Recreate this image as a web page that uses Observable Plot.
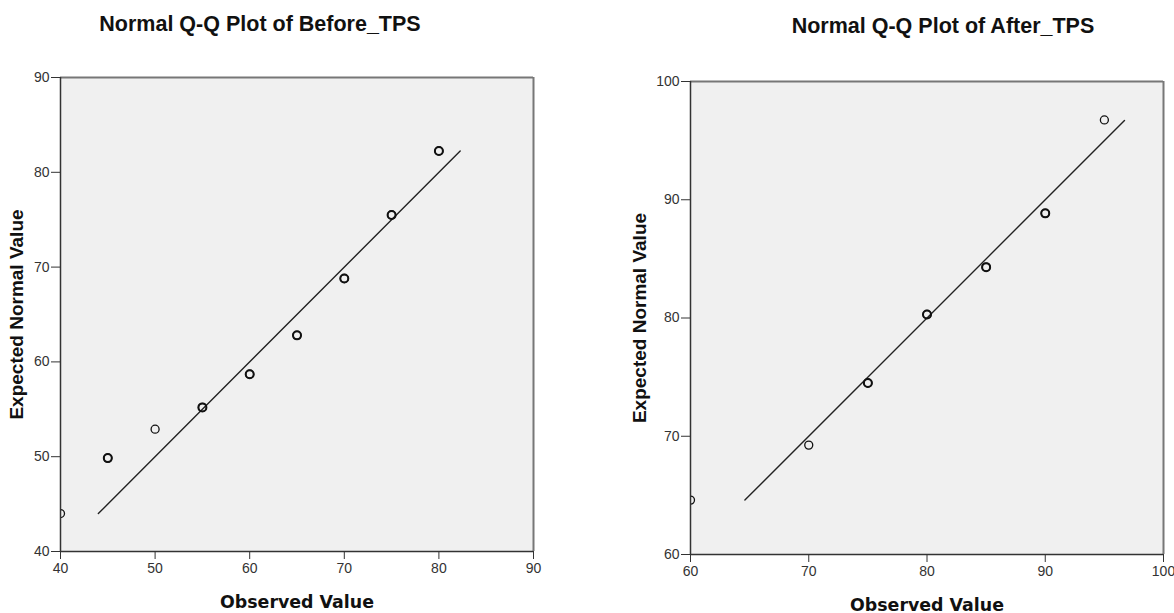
<!DOCTYPE html>
<html><head><meta charset="utf-8">
<script src="https://cdn.jsdelivr.net/npm/d3@7"></script>
<script src="https://cdn.jsdelivr.net/npm/@observablehq/plot@0.6"></script>
<style>
body{margin:0;background:#fff;width:1174px;height:613px;position:relative;overflow:hidden;font-family:"Liberation Sans",Arial,sans-serif}
.title{position:absolute;font-weight:bold;font-size:21.5px;color:#111;transform:translate(-50%,-50%);white-space:nowrap}
.panel{position:absolute;top:0}
</style>
</head><body>
<div class="title" id="t1" style="left:260px;top:24px"></div>
<div class="title" id="t2" style="left:943px;top:26px"></div>
<div class="panel" id="p1" style="left:0px"></div>
<div class="panel" id="p2" style="left:590px"></div>
<script>
// ----- data -----
const titles = ["Normal Q-Q Plot of Before_TPS", "Normal Q-Q Plot of After_TPS"];
const xLabel = "Observed Value";
const yLabel = "Expected Normal Value";

const beforeObserved = [40, 45, 50, 55, 60, 65, 70, 75, 80];
const beforeExpected = [44.0, 49.85, 52.9, 55.2, 58.7, 62.8, 68.8, 75.5, 82.25];
const beforeCount    = [1, 2, 1, 2, 2, 2, 2, 2, 2];
const beforeLine     = [44.0, 82.25];
const beforeTicks    = [40, 50, 60, 70, 80, 90];

const afterObserved = [60, 70, 75, 80, 85, 90, 95];
const afterExpected = [64.6, 69.25, 74.5, 80.3, 84.3, 88.85, 96.75];
const afterCount    = [1, 1, 2, 2, 2, 2, 1];
const afterLine     = [64.6, 96.7];
const afterTicks    = [60, 70, 80, 90, 100];

function panel({observed, expected, count, line, ticks, width, mL, mR, mT, mB, yLabDx}) {
  const pts = observed.map((x, i) => ({x, y: expected[i], n: count[i]}));
  const lo = ticks[0], hi = ticks[ticks.length - 1];
  const tickFont = {fontFamily: "Liberation Sans", fontSize: 14, fill: "#333"};
  return Plot.plot({
    width, height: 613,
    marginLeft: mL, marginRight: mR, marginTop: mT, marginBottom: mB,
    x: {domain: [lo, hi], axis: null},
    y: {domain: [lo, hi], axis: null},
    style: {fontFamily: "Liberation Sans, Arial, sans-serif", fontSize: "14px", background: "transparent", overflow: "visible"},
    marks: [
      Plot.frame({fill: "#f0f0f0", stroke: "none"}),
      Plot.line(line.map(v => ({x: v, y: v})), {x: "x", y: "y", stroke: "#222", strokeWidth: 1.4}),
      Plot.dot(pts, {x: "x", y: "y", r: 4, stroke: "#111", strokeWidth: 1.3, clip: true}),
      Plot.dot(pts.filter(d => d.n > 1), {x: "x", y: "y", r: 4, stroke: "#111", strokeWidth: 2, clip: true}),
      Plot.ruleX([hi], {stroke: "#777", strokeWidth: 2}),
      Plot.ruleY([hi], {stroke: "#777", strokeWidth: 2}),
      Plot.ruleX([lo], {stroke: "#333", strokeWidth: 1.5}),
      Plot.ruleY([lo], {stroke: "#333", strokeWidth: 1.5}),
      // tick marks
      Plot.axisX({ticks, tickSize: 8, tickPadding: 3, color: "#333", label: null, tickFormat: () => ""}),
      Plot.axisY({ticks, tickSize: 9, tickPadding: 1, color: "#333", label: null, tickFormat: () => ""}),
      // tick labels
      Plot.text(ticks, {x: d => d, frameAnchor: "bottom", dy: 12, lineAnchor: "top", text: d => String(d), ...tickFont}),
      Plot.text(ticks, {y: d => d, frameAnchor: "left", dx: -11, textAnchor: "end", lineAnchor: "middle", text: d => String(d), ...tickFont}),
      // axis titles
      Plot.text([xLabel], {frameAnchor: "bottom", dy: 51, lineAnchor: "middle", fontFamily: "DejaVu Sans", fontWeight: "bold", fontSize: 17.4, fill: "#111"}),
      Plot.text([yLabel], {frameAnchor: "left", dx: yLabDx, rotate: -90, lineAnchor: "middle", textAnchor: "middle", fontFamily: "Liberation Sans", fontWeight: "bold", fontSize: 19, fill: "#111"})
    ]
  });
}

document.getElementById("t1").textContent = titles[0];
document.getElementById("t2").textContent = titles[1];
document.getElementById("p1").appendChild(panel({
  observed: beforeObserved, expected: beforeExpected, count: beforeCount, line: beforeLine, ticks: beforeTicks,
  width: 560, mL: 60, mR: 27, mT: 77, mB: 62, yLabDx: -44
}));
document.getElementById("p2").appendChild(panel({
  observed: afterObserved, expected: afterExpected, count: afterCount, line: afterLine, ticks: afterTicks,
  width: 584, mL: 100, mR: 11, mT: 81, mB: 59, yLabDx: -51
}));
</script>
</body></html>
